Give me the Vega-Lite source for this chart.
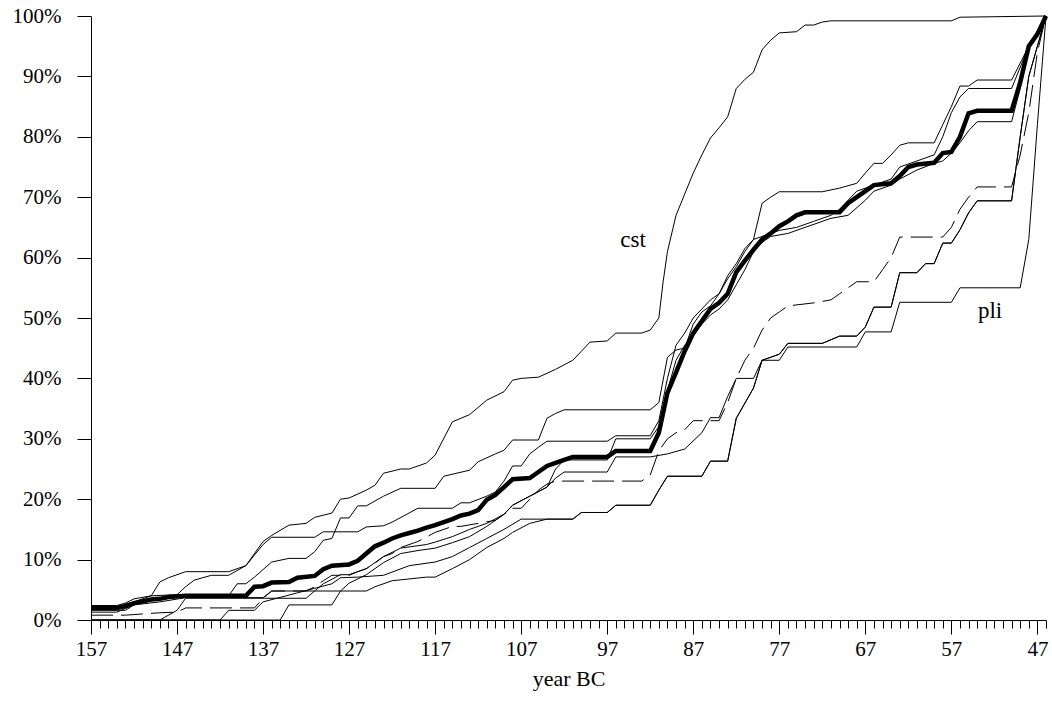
{
  "$schema": "https://vega.github.io/schema/vega-lite/v6.json",
  "width": 955,
  "height": 604,
  "autosize": {"type": "none"},
  "padding": {"left": 91, "top": 16, "right": 6, "bottom": 100},
  "background": "white",
  "config": {"view": {"stroke": null}},
  "datasets": {
    "labels": [
      {"name": "cst", "year": 94, "pct": 62.9},
      {"name": "pli", "year": 52.5, "pct": 51.2}
    ]
  },
  "data": {"values": [
    {"series":"cst","year":157,"pct":2.4},{"series":"cst","year":154,"pct":2.4},{"series":"cst","year":153,"pct":2.8},{"series":"cst","year":152,"pct":3.5},{"series":"cst","year":150,"pct":4},{"series":"cst","year":149,"pct":6.3},{"series":"cst","year":148,"pct":7},{"series":"cst","year":146,"pct":8},{"series":"cst","year":141,"pct":8},{"series":"cst","year":139,"pct":9},{"series":"cst","year":137,"pct":13},{"series":"cst","year":136,"pct":14},{"series":"cst","year":134,"pct":15.7},{"series":"cst","year":132,"pct":16},{"series":"cst","year":131,"pct":17},{"series":"cst","year":129,"pct":17.7},{"series":"cst","year":128,"pct":20},{"series":"cst","year":127,"pct":20.2},{"series":"cst","year":125,"pct":21.5},{"series":"cst","year":124,"pct":22.3},{"series":"cst","year":123,"pct":24.3},{"series":"cst","year":121,"pct":25},{"series":"cst","year":120,"pct":25},{"series":"cst","year":118,"pct":26},{"series":"cst","year":117,"pct":27.3},{"series":"cst","year":115,"pct":32.8},{"series":"cst","year":113,"pct":34},{"series":"cst","year":111,"pct":36.4},{"series":"cst","year":109,"pct":37.8},{"series":"cst","year":108,"pct":39.7},{"series":"cst","year":107,"pct":40},{"series":"cst","year":105,"pct":40.2},{"series":"cst","year":103,"pct":41.5},{"series":"cst","year":101,"pct":43},{"series":"cst","year":100,"pct":44.5},{"series":"cst","year":99,"pct":46},{"series":"cst","year":97,"pct":46.2},{"series":"cst","year":96,"pct":47.5},{"series":"cst","year":93,"pct":47.5},{"series":"cst","year":92,"pct":48},{"series":"cst","year":91,"pct":50},{"series":"cst","year":90.5,"pct":56},{"series":"cst","year":90,"pct":61},{"series":"cst","year":89,"pct":67},{"series":"cst","year":88,"pct":70.5},{"series":"cst","year":87,"pct":74},{"series":"cst","year":86,"pct":77},{"series":"cst","year":85,"pct":79.8},{"series":"cst","year":84,"pct":81.5},{"series":"cst","year":83,"pct":83.3},{"series":"cst","year":82,"pct":88},{"series":"cst","year":81,"pct":89.5},{"series":"cst","year":80,"pct":90.7},{"series":"cst","year":79,"pct":94.4},{"series":"cst","year":78,"pct":96},{"series":"cst","year":77,"pct":97.2},{"series":"cst","year":75,"pct":97.4},{"series":"cst","year":74,"pct":98.5},{"series":"cst","year":73,"pct":98.5},{"series":"cst","year":72,"pct":99},{"series":"cst","year":71,"pct":99.2},{"series":"cst","year":57,"pct":99.2},{"series":"cst","year":56,"pct":99.8},{"series":"cst","year":46,"pct":100},

    {"series":"E","year":157,"pct":1.6},{"series":"E","year":153,"pct":1.6},{"series":"E","year":152,"pct":2.5},{"series":"E","year":150,"pct":3.2},{"series":"E","year":148,"pct":3.8},{"series":"E","year":147,"pct":4},{"series":"E","year":141,"pct":4},{"series":"E","year":140,"pct":6},{"series":"E","year":139,"pct":6},{"series":"E","year":138,"pct":7.1},{"series":"E","year":136,"pct":9.6},{"series":"E","year":134,"pct":10.2},{"series":"E","year":132,"pct":10.2},{"series":"E","year":131,"pct":11.3},{"series":"E","year":130,"pct":13.2},{"series":"E","year":129,"pct":13.5},{"series":"E","year":128,"pct":16.9},{"series":"E","year":127,"pct":16.9},{"series":"E","year":126,"pct":18.9},{"series":"E","year":125,"pct":18.9},{"series":"E","year":123,"pct":20.5},{"series":"E","year":121,"pct":21.8},{"series":"E","year":117,"pct":21.8},{"series":"E","year":116,"pct":23.8},{"series":"E","year":113,"pct":24.8},{"series":"E","year":112,"pct":26.2},{"series":"E","year":110,"pct":27.5},{"series":"E","year":109,"pct":28.1},{"series":"E","year":108,"pct":29.8},{"series":"E","year":105,"pct":29.8},{"series":"E","year":104,"pct":33.4},{"series":"E","year":103,"pct":34.2},{"series":"E","year":102,"pct":34.8},{"series":"E","year":92,"pct":34.8},{"series":"E","year":91,"pct":36},{"series":"E","year":90,"pct":43.5},{"series":"E","year":89,"pct":44.7},{"series":"E","year":88,"pct":45},{"series":"E","year":87,"pct":49},{"series":"E","year":86,"pct":51},{"series":"E","year":85,"pct":52},{"series":"E","year":84,"pct":54},{"series":"E","year":83,"pct":56.5},{"series":"E","year":82,"pct":58.5},{"series":"E","year":81,"pct":61},{"series":"E","year":80,"pct":63},{"series":"E","year":79,"pct":69},{"series":"E","year":78,"pct":70},{"series":"E","year":77,"pct":70.9},{"series":"E","year":72,"pct":70.9},{"series":"E","year":70,"pct":71.5},{"series":"E","year":68,"pct":72.3},{"series":"E","year":67,"pct":74},{"series":"E","year":66,"pct":75.6},{"series":"E","year":65,"pct":75.6},{"series":"E","year":64,"pct":77},{"series":"E","year":63,"pct":78.6},{"series":"E","year":62,"pct":79},{"series":"E","year":59,"pct":79},{"series":"E","year":58,"pct":82},{"series":"E","year":57,"pct":85},{"series":"E","year":56,"pct":88.4},{"series":"E","year":55,"pct":88.4},{"series":"E","year":54,"pct":89.4},{"series":"E","year":50,"pct":89.4},{"series":"E","year":48,"pct":95},{"series":"E","year":46,"pct":100},

    {"series":"F","year":157,"pct":2.2},{"series":"F","year":154,"pct":2.2},{"series":"F","year":152,"pct":3},{"series":"F","year":150,"pct":4},{"series":"F","year":147,"pct":4.2},{"series":"F","year":146,"pct":5.5},{"series":"F","year":145,"pct":6.6},{"series":"F","year":143,"pct":7.4},{"series":"F","year":141,"pct":7.4},{"series":"F","year":139,"pct":9},{"series":"F","year":137,"pct":12.5},{"series":"F","year":136,"pct":13.7},{"series":"F","year":131,"pct":13.7},{"series":"F","year":130,"pct":14.6},{"series":"F","year":126,"pct":14.6},{"series":"F","year":125,"pct":15.4},{"series":"F","year":123,"pct":15.6},{"series":"F","year":122,"pct":16.2},{"series":"F","year":119,"pct":18.5},{"series":"F","year":115,"pct":18.5},{"series":"F","year":114,"pct":19.4},{"series":"F","year":113,"pct":19.4},{"series":"F","year":111,"pct":20.5},{"series":"F","year":110,"pct":21.2},{"series":"F","year":109,"pct":23},{"series":"F","year":108,"pct":25.5},{"series":"F","year":107,"pct":25.5},{"series":"F","year":106,"pct":27.5},{"series":"F","year":105,"pct":28.6},{"series":"F","year":104,"pct":29.6},{"series":"F","year":97,"pct":29.6},{"series":"F","year":96,"pct":30.5},{"series":"F","year":92,"pct":30.5},{"series":"F","year":91,"pct":33},{"series":"F","year":90,"pct":40},{"series":"F","year":89,"pct":45.5},{"series":"F","year":88,"pct":47.5},{"series":"F","year":87,"pct":50},{"series":"F","year":86,"pct":51.5},{"series":"F","year":85,"pct":53},{"series":"F","year":84,"pct":54},{"series":"F","year":83,"pct":57},{"series":"F","year":82,"pct":59},{"series":"F","year":81,"pct":61.5},{"series":"F","year":80,"pct":63},{"series":"F","year":78,"pct":64},{"series":"F","year":77,"pct":64.5},{"series":"F","year":75,"pct":65},{"series":"F","year":73,"pct":66},{"series":"F","year":71,"pct":67},{"series":"F","year":70,"pct":68},{"series":"F","year":68,"pct":71},{"series":"F","year":66,"pct":72},{"series":"F","year":64,"pct":73},{"series":"F","year":63,"pct":75},{"series":"F","year":61,"pct":76},{"series":"F","year":59,"pct":77},{"series":"F","year":58,"pct":80},{"series":"F","year":57,"pct":84},{"series":"F","year":56,"pct":86.6},{"series":"F","year":55,"pct":88},{"series":"F","year":50,"pct":88},{"series":"F","year":48,"pct":95},{"series":"F","year":46,"pct":100},

    {"series":"G","year":157,"pct":1.3},{"series":"G","year":154,"pct":1.3},{"series":"G","year":152,"pct":2.5},{"series":"G","year":149,"pct":3},{"series":"G","year":146,"pct":3.7},{"series":"G","year":137,"pct":3.7},{"series":"G","year":136,"pct":4.8},{"series":"G","year":131,"pct":4.8},{"series":"G","year":130,"pct":6},{"series":"G","year":128,"pct":7.5},{"series":"G","year":127,"pct":7.5},{"series":"G","year":125,"pct":8.5},{"series":"G","year":123,"pct":10.5},{"series":"G","year":121,"pct":11.9},{"series":"G","year":118,"pct":12.5},{"series":"G","year":117,"pct":12.9},{"series":"G","year":115,"pct":13.8},{"series":"G","year":113,"pct":15},{"series":"G","year":111,"pct":16},{"series":"G","year":109,"pct":17.5},{"series":"G","year":108,"pct":19},{"series":"G","year":106,"pct":20.5},{"series":"G","year":104,"pct":22},{"series":"G","year":103,"pct":25},{"series":"G","year":102,"pct":26.5},{"series":"G","year":97,"pct":26.5},{"series":"G","year":96,"pct":30},{"series":"G","year":92,"pct":30},{"series":"G","year":91,"pct":32},{"series":"G","year":90,"pct":38},{"series":"G","year":89,"pct":43},{"series":"G","year":88,"pct":45.5},{"series":"G","year":87,"pct":47},{"series":"G","year":86,"pct":49},{"series":"G","year":85,"pct":50.5},{"series":"G","year":84,"pct":51.5},{"series":"G","year":83,"pct":53},{"series":"G","year":82,"pct":55.5},{"series":"G","year":81,"pct":58},{"series":"G","year":80,"pct":61},{"series":"G","year":79,"pct":62.5},{"series":"G","year":78,"pct":63.5},{"series":"G","year":76,"pct":64},{"series":"G","year":74,"pct":65},{"series":"G","year":71,"pct":66.5},{"series":"G","year":69,"pct":67},{"series":"G","year":67,"pct":69.5},{"series":"G","year":66,"pct":71},{"series":"G","year":64,"pct":72},{"series":"G","year":63,"pct":73},{"series":"G","year":61,"pct":74.5},{"series":"G","year":59,"pct":75.6},{"series":"G","year":58,"pct":76},{"series":"G","year":57,"pct":77.3},{"series":"G","year":56,"pct":79},{"series":"G","year":55,"pct":81},{"series":"G","year":54,"pct":82.5},{"series":"G","year":50,"pct":82.5},{"series":"G","year":49,"pct":88},{"series":"G","year":48,"pct":95},{"series":"G","year":46,"pct":100},

    {"series":"pli","year":157,"pct":0},{"series":"pli","year":149,"pct":0},{"series":"pli","year":147,"pct":1.6},{"series":"pli","year":146,"pct":3.6},{"series":"pli","year":132,"pct":3.6},{"series":"pli","year":131,"pct":4.8},{"series":"pli","year":128,"pct":4.8},{"series":"pli","year":127,"pct":6.1},{"series":"pli","year":125,"pct":7.5},{"series":"pli","year":123,"pct":9.5},{"series":"pli","year":121,"pct":11},{"series":"pli","year":119,"pct":11.5},{"series":"pli","year":117,"pct":11.9},{"series":"pli","year":115,"pct":12.8},{"series":"pli","year":113,"pct":13.8},{"series":"pli","year":111,"pct":15.5},{"series":"pli","year":109,"pct":17.5},{"series":"pli","year":108,"pct":19},{"series":"pli","year":106,"pct":20.5},{"series":"pli","year":104,"pct":22},{"series":"pli","year":103,"pct":23.5},{"series":"pli","year":102,"pct":24.5},{"series":"pli","year":97,"pct":24.5},{"series":"pli","year":96,"pct":27},{"series":"pli","year":92,"pct":27},{"series":"pli","year":90,"pct":27.5},{"series":"pli","year":88,"pct":28.3},{"series":"pli","year":86,"pct":31},{"series":"pli","year":85,"pct":33.5},{"series":"pli","year":84,"pct":33.5},{"series":"pli","year":83,"pct":37},{"series":"pli","year":82,"pct":40},{"series":"pli","year":80,"pct":40},{"series":"pli","year":79,"pct":43},{"series":"pli","year":77,"pct":43},{"series":"pli","year":76,"pct":45.2},{"series":"pli","year":68,"pct":45.2},{"series":"pli","year":67,"pct":47.7},{"series":"pli","year":64,"pct":47.7},{"series":"pli","year":63,"pct":52.6},{"series":"pli","year":57,"pct":52.6},{"series":"pli","year":56,"pct":55},{"series":"pli","year":49,"pct":55},{"series":"pli","year":48,"pct":63},{"series":"pli","year":47,"pct":82},{"series":"pli","year":46,"pct":100},

    {"series":"I","year":157,"pct":0},{"series":"I","year":142,"pct":0},{"series":"I","year":141,"pct":1.6},{"series":"I","year":138,"pct":1.6},{"series":"I","year":137,"pct":3},{"series":"I","year":133,"pct":4.5},{"series":"I","year":129,"pct":6},{"series":"I","year":128,"pct":7},{"series":"I","year":126,"pct":7.1},{"series":"I","year":123,"pct":7.4},{"series":"I","year":120,"pct":9},{"series":"I","year":117,"pct":9.6},{"series":"I","year":115,"pct":10.5},{"series":"I","year":113,"pct":12},{"series":"I","year":111,"pct":13.5},{"series":"I","year":109,"pct":15},{"series":"I","year":107,"pct":16.7},{"series":"I","year":101,"pct":16.7},{"series":"I","year":100,"pct":17.8},{"series":"I","year":97,"pct":17.8},{"series":"I","year":96,"pct":19},{"series":"I","year":92,"pct":19},{"series":"I","year":91,"pct":21.5},{"series":"I","year":90,"pct":23.8},{"series":"I","year":86,"pct":23.8},{"series":"I","year":85,"pct":26.3},{"series":"I","year":83,"pct":26.3},{"series":"I","year":82,"pct":33.4},{"series":"I","year":80,"pct":38.4},{"series":"I","year":79,"pct":43},{"series":"I","year":77,"pct":44},{"series":"I","year":76,"pct":45.8},{"series":"I","year":72,"pct":45.8},{"series":"I","year":70,"pct":47},{"series":"I","year":68,"pct":47},{"series":"I","year":67,"pct":48.5},{"series":"I","year":66,"pct":51.8},{"series":"I","year":64,"pct":51.8},{"series":"I","year":63,"pct":57.5},{"series":"I","year":61,"pct":57.5},{"series":"I","year":60,"pct":59},{"series":"I","year":59,"pct":59},{"series":"I","year":58,"pct":62.4},{"series":"I","year":57,"pct":62.4},{"series":"I","year":56,"pct":64.6},{"series":"I","year":55,"pct":67.4},{"series":"I","year":54,"pct":69.4},{"series":"I","year":50,"pct":69.4},{"series":"I","year":49,"pct":80},{"series":"I","year":48,"pct":90},{"series":"I","year":47,"pct":95},{"series":"I","year":46,"pct":100},

    {"series":"X","year":157,"pct":0},{"series":"X","year":135,"pct":0},{"series":"X","year":134,"pct":2.5},{"series":"X","year":129,"pct":2.5},{"series":"X","year":128,"pct":4.8},{"series":"X","year":125,"pct":4.8},{"series":"X","year":124,"pct":5.5},{"series":"X","year":122,"pct":6.5},{"series":"X","year":118,"pct":7.1},{"series":"X","year":117,"pct":7.1},{"series":"X","year":115,"pct":8.5},{"series":"X","year":113,"pct":10},{"series":"X","year":111,"pct":12},{"series":"X","year":109,"pct":13.5},{"series":"X","year":108,"pct":14.5},{"series":"X","year":106,"pct":16},{"series":"X","year":104,"pct":16.7},{"series":"X","year":101,"pct":16.7},{"series":"X","year":100,"pct":17.8},{"series":"X","year":97,"pct":17.8},{"series":"X","year":96,"pct":19},{"series":"X","year":92,"pct":19},{"series":"X","year":91,"pct":21.5},{"series":"X","year":90,"pct":23.8},{"series":"X","year":86,"pct":23.8},{"series":"X","year":85,"pct":26.3},{"series":"X","year":83,"pct":26.3},{"series":"X","year":82,"pct":33.4},{"series":"X","year":80,"pct":38.4},{"series":"X","year":79,"pct":43},{"series":"X","year":77,"pct":44},{"series":"X","year":76,"pct":45.8},{"series":"X","year":72,"pct":45.8},{"series":"X","year":70,"pct":47},{"series":"X","year":68,"pct":47},{"series":"X","year":67,"pct":48.5},{"series":"X","year":66,"pct":51.8},{"series":"X","year":64,"pct":51.8},{"series":"X","year":63,"pct":57.5},{"series":"X","year":61,"pct":57.5},{"series":"X","year":60,"pct":59},{"series":"X","year":59,"pct":59},{"series":"X","year":58,"pct":62.4},{"series":"X","year":57,"pct":62.4},{"series":"X","year":56,"pct":64.6},{"series":"X","year":55,"pct":67.4},{"series":"X","year":54,"pct":69.4},{"series":"X","year":50,"pct":69.4},{"series":"X","year":49,"pct":80},{"series":"X","year":48,"pct":90},{"series":"X","year":47,"pct":95},{"series":"X","year":46,"pct":100},

    {"series":"dash","year":157,"pct":0.8},{"series":"dash","year":153,"pct":0.8},{"series":"dash","year":151,"pct":1},{"series":"dash","year":149,"pct":1.2},{"series":"dash","year":147,"pct":1.3},{"series":"dash","year":146,"pct":2},{"series":"dash","year":138,"pct":2},{"series":"dash","year":137,"pct":3.6},{"series":"dash","year":136,"pct":4.8},{"series":"dash","year":132,"pct":4.8},{"series":"dash","year":131,"pct":5.5},{"series":"dash","year":130,"pct":6.5},{"series":"dash","year":129,"pct":7.4},{"series":"dash","year":127,"pct":7.4},{"series":"dash","year":126,"pct":8},{"series":"dash","year":125,"pct":8.5},{"series":"dash","year":124,"pct":9.4},{"series":"dash","year":123,"pct":10.5},{"series":"dash","year":122,"pct":11},{"series":"dash","year":121,"pct":12},{"series":"dash","year":119,"pct":13},{"series":"dash","year":117,"pct":14.5},{"series":"dash","year":115,"pct":15.5},{"series":"dash","year":114,"pct":15.5},{"series":"dash","year":112,"pct":16},{"series":"dash","year":110,"pct":16.5},{"series":"dash","year":108,"pct":18.5},{"series":"dash","year":107,"pct":18.5},{"series":"dash","year":106,"pct":20},{"series":"dash","year":105,"pct":21.5},{"series":"dash","year":104,"pct":22.5},{"series":"dash","year":103,"pct":23},{"series":"dash","year":93,"pct":23},{"series":"dash","year":92,"pct":24},{"series":"dash","year":91,"pct":28},{"series":"dash","year":90,"pct":30},{"series":"dash","year":89,"pct":31},{"series":"dash","year":88,"pct":31.5},{"series":"dash","year":87,"pct":33},{"series":"dash","year":84,"pct":33},{"series":"dash","year":83,"pct":36},{"series":"dash","year":82,"pct":40},{"series":"dash","year":81,"pct":43},{"series":"dash","year":80,"pct":45},{"series":"dash","year":79,"pct":48},{"series":"dash","year":78,"pct":50},{"series":"dash","year":77,"pct":51},{"series":"dash","year":76,"pct":52},{"series":"dash","year":73,"pct":52.5},{"series":"dash","year":71,"pct":53},{"series":"dash","year":70,"pct":54},{"series":"dash","year":69,"pct":55},{"series":"dash","year":68,"pct":56},{"series":"dash","year":66,"pct":56},{"series":"dash","year":65,"pct":58},{"series":"dash","year":64,"pct":60},{"series":"dash","year":63,"pct":63.4},{"series":"dash","year":58,"pct":63.4},{"series":"dash","year":57,"pct":65},{"series":"dash","year":56,"pct":68},{"series":"dash","year":55,"pct":70},{"series":"dash","year":54,"pct":71.7},{"series":"dash","year":50,"pct":71.7},{"series":"dash","year":49,"pct":77},{"series":"dash","year":48,"pct":84},{"series":"dash","year":47,"pct":94},{"series":"dash","year":46,"pct":100},

    {"series":"mean","year":157,"pct":2},{"series":"mean","year":154,"pct":2},{"series":"mean","year":153,"pct":2.3},{"series":"mean","year":152,"pct":2.8},{"series":"mean","year":150,"pct":3.4},{"series":"mean","year":149,"pct":3.5},{"series":"mean","year":148,"pct":3.8},{"series":"mean","year":146,"pct":4},{"series":"mean","year":139,"pct":4},{"series":"mean","year":138,"pct":5.5},{"series":"mean","year":137,"pct":5.6},{"series":"mean","year":136,"pct":6.2},{"series":"mean","year":134,"pct":6.3},{"series":"mean","year":133,"pct":7},{"series":"mean","year":131,"pct":7.3},{"series":"mean","year":130,"pct":8.4},{"series":"mean","year":129,"pct":9},{"series":"mean","year":127,"pct":9.2},{"series":"mean","year":126,"pct":9.8},{"series":"mean","year":125,"pct":11},{"series":"mean","year":124,"pct":12.2},{"series":"mean","year":123,"pct":12.8},{"series":"mean","year":122,"pct":13.5},{"series":"mean","year":121,"pct":14},{"series":"mean","year":120,"pct":14.4},{"series":"mean","year":119,"pct":14.8},{"series":"mean","year":118,"pct":15.3},{"series":"mean","year":117,"pct":15.7},{"series":"mean","year":116,"pct":16.2},{"series":"mean","year":115,"pct":16.7},{"series":"mean","year":114,"pct":17.3},{"series":"mean","year":113,"pct":17.6},{"series":"mean","year":112,"pct":18.2},{"series":"mean","year":111,"pct":19.9},{"series":"mean","year":110,"pct":20.7},{"series":"mean","year":109,"pct":22},{"series":"mean","year":108,"pct":23.3},{"series":"mean","year":106,"pct":23.5},{"series":"mean","year":105,"pct":24.5},{"series":"mean","year":104,"pct":25.5},{"series":"mean","year":103,"pct":26},{"series":"mean","year":102,"pct":26.5},{"series":"mean","year":101,"pct":27},{"series":"mean","year":97,"pct":27},{"series":"mean","year":96,"pct":28},{"series":"mean","year":92,"pct":28},{"series":"mean","year":91,"pct":31},{"series":"mean","year":90,"pct":37.6},{"series":"mean","year":89,"pct":41},{"series":"mean","year":88,"pct":44.5},{"series":"mean","year":87,"pct":47.5},{"series":"mean","year":86,"pct":49.5},{"series":"mean","year":85,"pct":51.5},{"series":"mean","year":84,"pct":52.5},{"series":"mean","year":83,"pct":54},{"series":"mean","year":82,"pct":57.6},{"series":"mean","year":81,"pct":59.5},{"series":"mean","year":80,"pct":61.3},{"series":"mean","year":79,"pct":63},{"series":"mean","year":78,"pct":64},{"series":"mean","year":77,"pct":65.2},{"series":"mean","year":76,"pct":66},{"series":"mean","year":75,"pct":67},{"series":"mean","year":74,"pct":67.5},{"series":"mean","year":70,"pct":67.5},{"series":"mean","year":69,"pct":69},{"series":"mean","year":68,"pct":70},{"series":"mean","year":67,"pct":71},{"series":"mean","year":66,"pct":72},{"series":"mean","year":64,"pct":72.3},{"series":"mean","year":63,"pct":73.5},{"series":"mean","year":62,"pct":75},{"series":"mean","year":61,"pct":75.4},{"series":"mean","year":59,"pct":75.7},{"series":"mean","year":58,"pct":77.3},{"series":"mean","year":57,"pct":77.5},{"series":"mean","year":56,"pct":80},{"series":"mean","year":55,"pct":83.9},{"series":"mean","year":54,"pct":84.3},{"series":"mean","year":50,"pct":84.3},{"series":"mean","year":49,"pct":89},{"series":"mean","year":48,"pct":95},{"series":"mean","year":47,"pct":97},{"series":"mean","year":46,"pct":100}
  ]},
  "encoding": {
    "x": {
      "field": "year", "type": "quantitative",
      "scale": {"domain": [46, 157], "reverse": true, "nice": false, "zero": false},
      "axis": {
        "title": "year BC",
        "values": [157,156,155,154,153,152,151,150,149,148,147,146,145,144,143,142,141,140,139,138,137,136,135,134,133,132,131,130,129,128,127,126,125,124,123,122,121,120,119,118,117,116,115,114,113,112,111,110,109,108,107,106,105,104,103,102,101,100,99,98,97,96,95,94,93,92,91,90,89,88,87,86,85,84,83,82,81,80,79,78,77,76,75,74,73,72,71,70,69,68,67,66,65,64,63,62,61,60,59,58,57,56,55,54,53,52,51,50,49,48,47,46],
        "labelExpr": "(157 - datum.value) % 10 === 0 ? datum.value : ''",
        "labelOverlap": false,
        "labelFlush": false,
        "tickSize": {"condition": {"test": "(157 - datum.value) % 10 === 0", "value": 14}, "value": 8},
        "tickColor": "black",
        "tickWidth": 1,
        "domainColor": "black",
        "domainWidth": 1,
        "grid": false,
        "labelFont": "Liberation Serif",
        "labelFontSize": 21,
        "labelColor": "black",
        "labelPadding": 4,
        "titleFont": "Liberation Serif",
        "titleFontSize": 22,
        "titleFontWeight": "normal",
        "titleColor": "black",
        "titlePadding": 9
      }
    },
    "y": {
      "field": "pct", "type": "quantitative",
      "scale": {"domain": [0, 100], "nice": false},
      "axis": {
        "title": null,
        "values": [0,10,20,30,40,50,60,70,80,90,100],
        "labelExpr": "datum.value + '%'",
        "tickSize": 14,
        "tickColor": "black",
        "domainColor": "black",
        "grid": false,
        "labelFont": "Liberation Serif",
        "labelFontSize": 21,
        "labelColor": "black",
        "labelPadding": 16
      }
    }
  },
  "layer": [
    {
      "transform": [{"filter": "datum.series !== 'mean' && datum.series !== 'dash'"}],
      "mark": {"type": "line", "color": "black", "strokeWidth": 1},
      "encoding": {"detail": {"field": "series"}}
    },
    {
      "transform": [{"filter": "datum.series === 'dash'"}],
      "mark": {"type": "line", "color": "black", "strokeWidth": 1, "strokeDash": [22, 8]},
      "encoding": {"detail": {"field": "series"}}
    },
    {
      "transform": [{"filter": "datum.series === 'mean'"}],
      "mark": {"type": "line", "color": "black", "strokeWidth": 4.5},
      "encoding": {"detail": {"field": "series"}}
    },
    {
      "data": {"name": "labels"},
      "mark": {"type": "text", "font": "Liberation Serif", "fontSize": 23, "color": "black"},
      "encoding": {"text": {"field": "name"}}
    }
  ]
}
